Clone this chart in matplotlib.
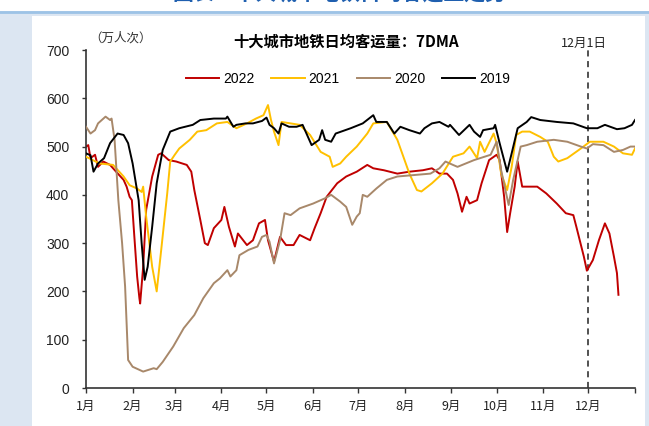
import numpy as np
import matplotlib
matplotlib.use("Agg")
import matplotlib.pyplot as plt
from matplotlib.patches import Rectangle
from matplotlib.lines import Line2D

plt.rcParams['font.family'] = ['Liberation Sans', 'Noto Sans CJK SC']
plt.rcParams['axes.unicode_minus'] = False

# ---- data : day of year -> 10k passengers (7DMA) ----
days_2022 = [0, 1.5, 3, 6, 8, 11.5, 16, 20, 25, 27, 29, 30.5, 32, 34, 35.5, 36, 38, 40, 44, 48, 50, 55, 60,
             67, 70, 72, 76, 79, 81, 85, 90, 92, 95, 99, 101, 107, 111, 115, 119, 121, 125, 129, 133, 138,
             142, 149, 152, 156, 160, 167, 173, 180, 187, 191, 198, 207, 215, 224, 230, 235, 240, 244, 247,
             250, 253, 255, 260, 263, 268, 273, 275, 278, 280, 282, 285, 287, 290, 293, 300, 306, 313, 319,
             324, 326, 331, 333, 337, 341, 345, 348, 351, 353, 354]
vals_2022 = [500, 503, 476, 483, 458, 469, 462, 448, 431, 417, 396, 389, 320, 231, 186, 175, 251, 369, 438,
             483, 486, 472, 469, 462, 448, 410, 348, 300, 296, 331, 348, 375, 334, 293, 320, 296, 306, 341,
             348, 306, 262, 313, 296, 296, 317, 306, 331, 362, 396, 424, 438, 448, 462, 455, 451, 444, 448,
             451, 455, 444, 444, 431, 403, 365, 396, 382, 389, 424, 472, 483, 472, 396, 323, 362, 417, 469,
             417, 417, 417, 403, 382, 362, 358, 334, 272, 243, 265, 306, 341, 320, 272, 238, 193]

days_2021 = [0, 9, 18, 25, 29, 34, 37, 38, 40, 44, 47, 50, 54, 56, 59, 62, 69, 74, 80, 87, 94, 100, 107,
             113, 118, 121, 123, 125, 128, 130, 142, 149, 156, 162, 164, 169, 173, 180, 187, 191, 200, 207,
             211, 215, 220, 223, 230, 237, 242, 244, 251, 255, 260, 262, 265, 271, 273, 276, 280, 283, 286,
             290, 295, 302, 307, 311, 314, 320, 329, 335, 344, 351, 357, 363, 365]
vals_2021 = [479, 465, 462, 438, 420, 413, 406, 417, 355, 251, 200, 286, 403, 469, 483, 496, 514, 531, 534,
             548, 551, 538, 548, 558, 565, 586, 555, 531, 503, 551, 545, 524, 489, 479, 458, 465, 479, 500,
             527, 548, 551, 514, 479, 444, 410, 407, 424, 444, 469, 479, 486, 500, 476, 510, 489, 527, 507,
             444, 410, 458, 524, 531, 531, 520, 510, 479, 469, 476, 496, 510, 510, 500, 486, 483, 496]

days_2020 = [0, 3, 6, 8, 13, 16, 17, 19, 21.5, 24, 26, 28, 31, 38, 45, 47, 51, 58, 65, 72, 78, 85, 89, 94,
             96, 100, 102, 108, 114, 117, 120, 122, 125, 129, 132, 136, 142, 151, 159, 163, 169, 173, 177,
             180, 182, 184, 187, 193, 200, 207, 218, 229, 235, 239, 244, 247, 258, 269, 273, 276, 281, 284,
             289, 293, 300, 311, 320, 329, 333, 337, 344, 351, 357, 362, 365]
vals_2020 = [541, 527, 534, 548, 562, 555, 558, 514, 389, 300, 210, 58, 44, 34, 41, 39, 54, 86, 124, 151,
             186, 217, 227, 244, 231, 244, 275, 286, 293, 313, 317, 303, 258, 306, 362, 358, 372, 382, 393,
             400, 386, 375, 338, 355, 362, 400, 396, 413, 431, 438, 441, 444, 455, 469, 462, 458, 472, 483,
             510, 451, 379, 431, 500, 503, 510, 514, 510, 500, 496, 505, 503, 489, 493, 500, 500]

days_2019 = [0, 3, 5, 8, 12, 16, 21, 25, 28, 31, 35, 37, 39, 41, 44, 47, 51, 56, 62, 71, 76, 85, 93, 94,
             98, 100, 106, 111, 117, 120, 122, 125, 128, 130, 135, 140, 144, 150, 155, 157, 159, 163, 166,
             176, 184, 191, 193, 200, 205, 209, 215, 222, 225, 230, 235, 241, 242, 248, 255, 258, 262, 264,
             271, 272, 275, 280, 283, 287, 293, 296, 302, 313, 324, 333, 340, 345, 353, 358, 363, 365]
vals_2019 = [486, 482, 448, 465, 476, 507, 527, 524, 507, 465, 389, 300, 224, 251, 334, 424, 493, 531, 538,
             545, 555, 558, 558, 562, 541, 545, 548, 548, 553, 560, 545, 538, 527, 548, 541, 541, 545, 503,
             514, 534, 514, 510, 527, 538, 548, 565, 551, 551, 527, 541, 534, 527, 538, 548, 551, 541, 545,
             524, 545, 531, 520, 534, 538, 545, 507, 448, 486, 538, 551, 561, 555, 551, 548, 538, 538, 545,
             536, 538, 545, 555]

month_starts = [0, 31, 59, 90, 120, 151, 181, 212, 243, 273, 304, 334, 365]
month_labels = ['1月', '2月', '3月', '4月', '5月', '6月', '7月', '8月', '9月', '10月', '11月', '12月', '']
DEC1 = 334

series = [
    ('2022', days_2022, vals_2022, '#C00000'),
    ('2021', days_2021, vals_2021, '#FFC000'),
    ('2020', days_2020, vals_2020, '#A8886A'),
    ('2019', days_2019, vals_2019, '#000000'),
]

W, H = 649, 426
fig = plt.figure(figsize=(W / 100, H / 100), dpi=100)
fig.patch.set_facecolor('#DCE6F2')

# white panels + separator line
fig.add_artist(Rectangle((32 / W, 0), (645 - 32) / W, (H - 16) / H, transform=fig.transFigure,
                         facecolor='white', edgecolor='none', zorder=-10))
fig.add_artist(Rectangle((0, 1 - 11 / H), 1, 11 / H, transform=fig.transFigure,
                         facecolor='white', edgecolor='none', zorder=-10))
fig.add_artist(Line2D([0, 1], [1 - 12 / H, 1 - 12 / H], transform=fig.transFigure,
                      color='#9DC3E6', lw=2, zorder=-5))
# page heading, only its lower edge falls inside the frame
fig.text(340 / W, 1 + 0.5 / H, '图表：十大城市地铁日均客运量走势', color='#1F5FAF', fontsize=15,
         fontweight='bold', ha='center', va='baseline', family=['Noto Sans CJK SC'])

ax = fig.add_axes([86 / W, (H - 388) / H, (635 - 86) / W, (388 - 50) / H])
ax.set_facecolor('none')

for i, (name, d, v, c) in enumerate(series):
    ax.plot(d, v, color=c, lw=1.4, label=name, zorder=2 + i)

ax.plot([DEC1, DEC1], [0, 705], color='#222222', lw=1.1, ls=(0, (4, 3)), clip_on=False, zorder=1)

ax.set_xlim(0, 365)
ax.set_ylim(0, 700)
ax.set_yticks(range(0, 701, 100))
ax.set_xticks(month_starts)
ax.set_xticklabels(month_labels, family=['Noto Sans CJK SC'], fontsize=9, fontweight='medium')
for s in ['top', 'right']:
    ax.spines[s].set_visible(False)
for s in ['left', 'bottom']:
    ax.spines[s].set_color('#333333')
    ax.spines[s].set_linewidth(1.2)
ax.tick_params(axis='y', direction='out', length=3, width=1, labelsize=10, pad=9, colors='#333333',
               labelcolor='#222222')
ax.tick_params(axis='x', direction='out', length=3.5, width=1, pad=5, colors='#333333',
               labelcolor='#222222')

fig.text(346 / W, 1 - 42 / H, '十大城市地铁日均客运量：7DMA', fontsize=11, fontweight='bold',
         ha='center', va='center', family=['Noto Sans CJK SC'])
fig.text(121 / W, 1 - 38 / H, '（万人次）', fontsize=9, ha='center', va='center',
         family=['Noto Sans CJK SC'], color='#333333')
fig.text(584 / W, 1 - 43 / H, '12月1日', fontsize=9, ha='center', va='center',
         family=['Noto Sans CJK SC'], color='#222222')

ax.legend(loc='center', bbox_to_anchor=(348 / W, 1 - 79 / H), bbox_transform=fig.transFigure,
          ncol=4, frameon=False, handlelength=2.4, handletextpad=0.3, columnspacing=1.2, fontsize=10)

fig.savefig('out.png', dpi=100, facecolor=fig.get_facecolor())
